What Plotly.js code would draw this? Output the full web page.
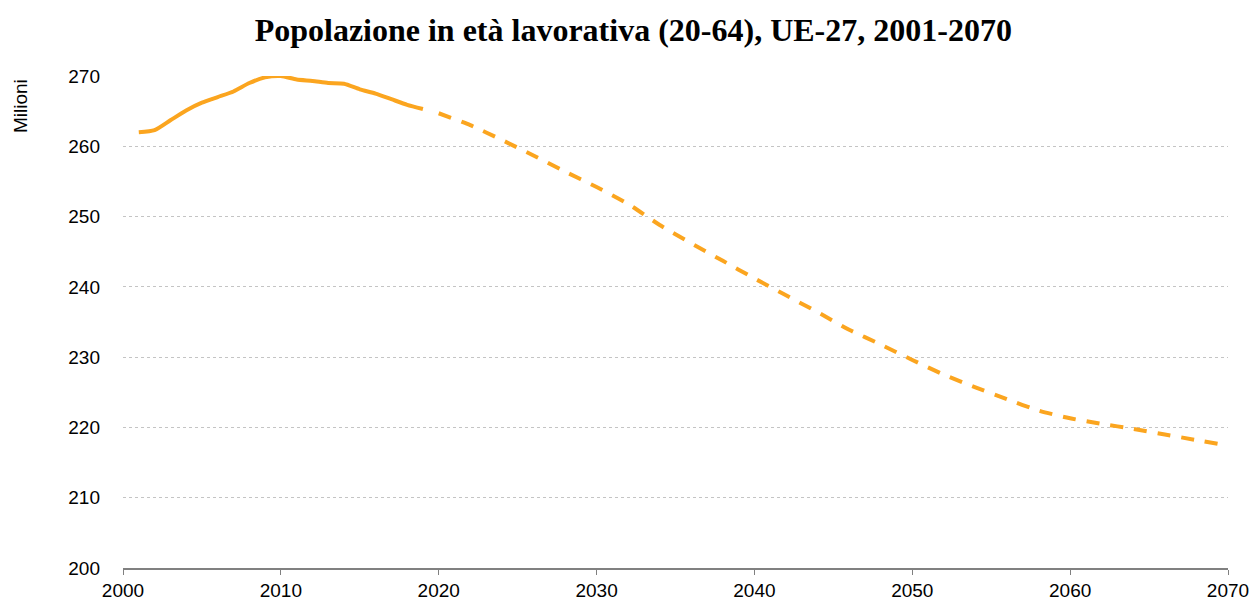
<!DOCTYPE html>
<html>
<head>
<meta charset="utf-8">
<script src="https://cdn.plot.ly/plotly-3.0.1.min.js"></script>
<style>html,body{margin:0;padding:0;background:#fff;}#chart{width:1254px;height:601px;}</style>
</head>
<body>
<div id="chart"></div>
<script>
// Observed (solid) series
const yearsObserved = [2001,2002,2003,2004,2005,2006,2007,2008,2009,2010,2011,2012,2013,2014,2015,2016,2017,2018,2019];
const valuesObserved = [262.0,262.3,263.7,265.1,266.2,267.0,267.8,269.0,269.8,270.0,269.5,269.3,269.0,268.9,268.1,267.5,266.7,265.9,265.3];
// Projection (dashed) series
const yearsProjected = [2020,2022,2024,2026,2028,2030,2032,2034,2036,2038,2040,2042,2044,2046,2048,2050,2052,2054,2056,2058,2060,2062,2064,2066,2068,2070];
const valuesProjected = [264.7,263.0,260.9,258.7,256.4,254.2,251.8,248.8,246.2,243.7,241.2,238.8,236.4,233.9,231.8,229.6,227.5,225.7,224.0,222.4,221.3,220.5,219.8,219.0,218.2,217.4];
const xTicks = [2000,2010,2020,2030,2040,2050,2060,2070];
const yTicks = [200,210,220,230,240,250,260,270];

const lineColor = '#FBA51F';
const traces = [
  {x: yearsObserved, y: valuesObserved, type: 'scatter', mode: 'lines',
   line: {color: lineColor, width: 4, shape: 'spline', smoothing: 0.6}, cliponaxis: false, hoverinfo: 'x+y'},
  {x: yearsProjected, y: valuesProjected, type: 'scatter', mode: 'lines',
   line: {color: lineColor, width: 4, shape: 'spline', smoothing: 0.6, dash: '13px,11px'}, cliponaxis: false, hoverinfo: 'x+y'}
];

const layout = {
  width: 1254, height: 601,
  margin: {l: 123, r: 26, t: 76, b: 33},
  paper_bgcolor: '#ffffff', plot_bgcolor: '#ffffff',
  showlegend: false,
  title: {text: 'Popolazione in età lavorativa (20-64), UE-27, 2001-2070',
          font: {family: '"Liberation Serif", "Times New Roman", serif', size: 32, color: '#000000', weight: 'bold'},
          x: 0.505, xanchor: 'center', xref: 'container', y: 1 - 30/601, yanchor: 'middle', yref: 'container'},
  font: {family: '"Liberation Sans", Arial, sans-serif', size: 19, color: '#000000'},
  xaxis: {range: [2000, 2070], tickvals: xTicks, ticktext: xTicks.map(String),
          showgrid: false, zeroline: false, showline: true, linecolor: '#808080', linewidth: 1.5,
          ticks: 'outside', ticklen: 5, tickcolor: '#808080', tickwidth: 1,
          tickfont: {size: 19, color: '#000000'}},
  yaxis: {range: [200, 270], tickvals: yTicks, ticktext: yTicks.map(String),
          showgrid: true, gridcolor: '#c4c4c4', griddash: 'dot', gridwidth: 1,
          zeroline: false, showline: false, ticks: '', ticklabelstandoff: 22,
          tickfont: {size: 19, color: '#000000'}},
  annotations: [
    {text: 'Milioni', xref: 'paper', yref: 'paper', x: -103/1105, y: (568-106)/492,
     xanchor: 'center', yanchor: 'middle', textangle: -90, showarrow: false,
     font: {size: 19, color: '#000000'}}
  ]
};

Plotly.newPlot('chart', traces, layout, {displayModeBar: false, staticPlot: true});
</script>
</body>
</html>
